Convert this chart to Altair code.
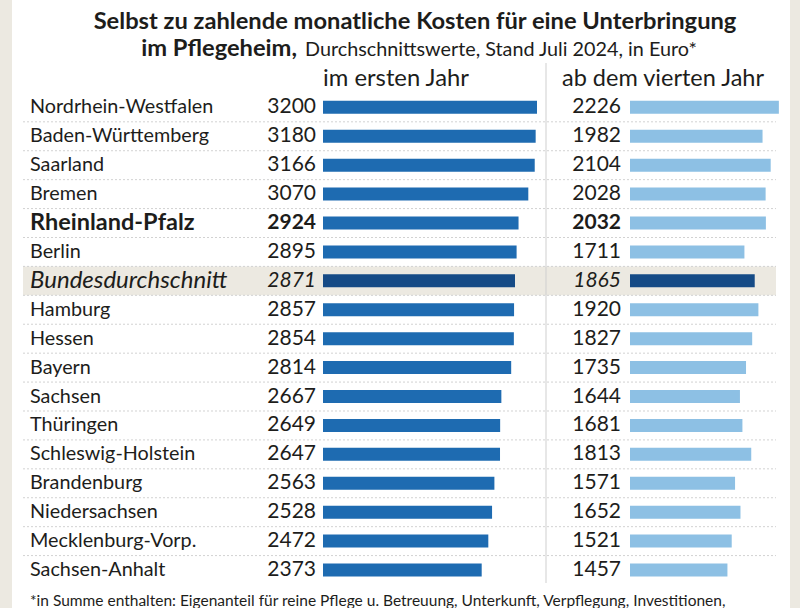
import altair as alt
import pandas as pd

states = ["Nordrhein-Westfalen", "Baden-Württemberg", "Saarland", "Bremen",
          "Rheinland-Pfalz", "Berlin", "Bundesdurchschnitt", "Hamburg", "Hessen",
          "Bayern", "Sachsen", "Thüringen", "Schleswig-Holstein", "Brandenburg",
          "Niedersachsen", "Mecklenburg-Vorp.", "Sachsen-Anhalt"]
first_year = [3200, 3180, 3166, 3070, 2924, 2895, 2871, 2857, 2854, 2814,
              2667, 2649, 2647, 2563, 2528, 2472, 2373]
fourth_year = [2226, 1982, 2104, 2028, 2032, 1711, 1865, 1920, 1827, 1735,
               1644, 1681, 1813, 1571, 1652, 1521, 1457]
bold_state = "Rheinland-Pfalz"
avg_state = "Bundesdurchschnitt"

title_line1 = "Selbst zu zahlende monatliche Kosten für eine Unterbringung"
title_line2_bold = "im Pflegeheim,"
title_line2_regular = "Durchschnittswerte, Stand Juli 2024, in Euro*"
col_header_1 = "im ersten Jahr"
col_header_2 = "ab dem vierten Jahr"
footnote = ("*in Summe enthalten: Eigenanteil für reine Pflege u. Betreuung, "
            "Unterkunft, Verpflegung, Investitionen,")

df = pd.DataFrame({"state": states, "first": first_year, "fourth": fourth_year})
df["kind"] = ["bold" if s == bold_state else ("italic" if s == avg_state else "normal")
              for s in states]

FONT = "Lato"
INK = "#1d1d1b"
BLUE = "#1e6bb1"
DARK = "#164b86"
LIGHT = "#8dc0e4"
BEIGE = "#ece9e1"

yscale = alt.Scale(domain=states, range=[92.9, 584.5], paddingInner=0, paddingOuter=0)
Y = alt.Y("state:N", sort=states, scale=yscale, axis=None)

base = alt.Chart(df)

highlight = base.transform_filter(alt.datum.state == avg_state).mark_rect(color=BEIGE).encode(
    y=Y, x=alt.value(11), x2=alt.value(764))

separators = base.transform_filter(alt.datum.state != states[-1]).mark_rule(
    color="#d2d2d2", strokeDash=[2, 2], strokeWidth=1).encode(
    y=alt.Y("state:N", sort=states, scale=yscale, axis=None, bandPosition=1),
    x=alt.value(11), x2=alt.value(764))

vline = base.transform_filter(alt.datum.state == states[0]).mark_rule(
    color="#cfcfcf", strokeWidth=1).encode(
    x=alt.value(534), y=alt.value(63), y2=alt.value(583))

bar_color = alt.condition(alt.datum.state == avg_state, alt.value(DARK), alt.value(BLUE))
bars_first = base.mark_bar(height=13).encode(
    y=Y,
    x=alt.X("first:Q", scale=alt.Scale(domain=[0, 3200], range=[311, 525], nice=False, zero=True), axis=None),
    color=bar_color)

bar_color2 = alt.condition(alt.datum.state == avg_state, alt.value(DARK), alt.value(LIGHT))
bars_fourth = base.mark_bar(height=13).encode(
    y=Y,
    x=alt.X("fourth:Q", scale=alt.Scale(domain=[0, 3200], range=[618, 832], nice=False, zero=True), axis=None),
    color=bar_color2)

text_layers = []
for kind, weight, style, nsize in [("normal", "normal", "normal", 19.8),
                                   ("bold", "bold", "normal", 23.5),
                                   ("italic", "normal", "italic", 24)]:
    sub = base.transform_filter(alt.datum.kind == kind)
    common = dict(font=FONT, fontWeight=weight, fontStyle=style, color=INK, baseline="middle")
    text_layers.append(sub.mark_text(align="left", fontSize=nsize, **common).encode(
        y=Y, x=alt.value(18), text="state:N"))
    text_layers.append(sub.mark_text(align="right", fontSize=21, **common).encode(
        y=Y, x=alt.value(304), text="first:Q"))
    text_layers.append(sub.mark_text(align="right", fontSize=21, **common).encode(
        y=Y, x=alt.value(609), text="fourth:Q"))

one = base.transform_filter(alt.datum.state == states[0])

def label(txt, x, y, size, weight="normal", align="left"):
    return one.mark_text(text=txt, font=FONT, fontSize=size, fontWeight=weight, color=INK,
                         align=align, baseline="alphabetic").encode(x=alt.value(x), y=alt.value(y))

titles = [
    label(title_line1, 403, 29, 23.7, "bold", "center"),
    label(title_line2_bold, 285, 56, 23.7, "bold", "right"),
    label(title_line2_regular, 293, 56, 19.8, "normal", "left"),
    label(col_header_1, 384, 86, 23.8, "normal", "center"),
    label(col_header_2, 651, 86, 23.5, "normal", "center"),
    label(footnote, 18, 606, 15.5, "normal", "left"),
]

chart = alt.layer(highlight, separators, vline, bars_first, bars_fourth, *text_layers, *titles).resolve_scale(
    x="independent").properties(
    width=778, height=608, background=BEIGE,
    padding={"left": 12, "right": 10, "top": 0, "bottom": 0},
    autosize=alt.AutoSizeParams(type="none"),
).configure_view(stroke=None, fill="white")

chart.save("out.html", embed_options={"renderer": "svg", "actions": False})
